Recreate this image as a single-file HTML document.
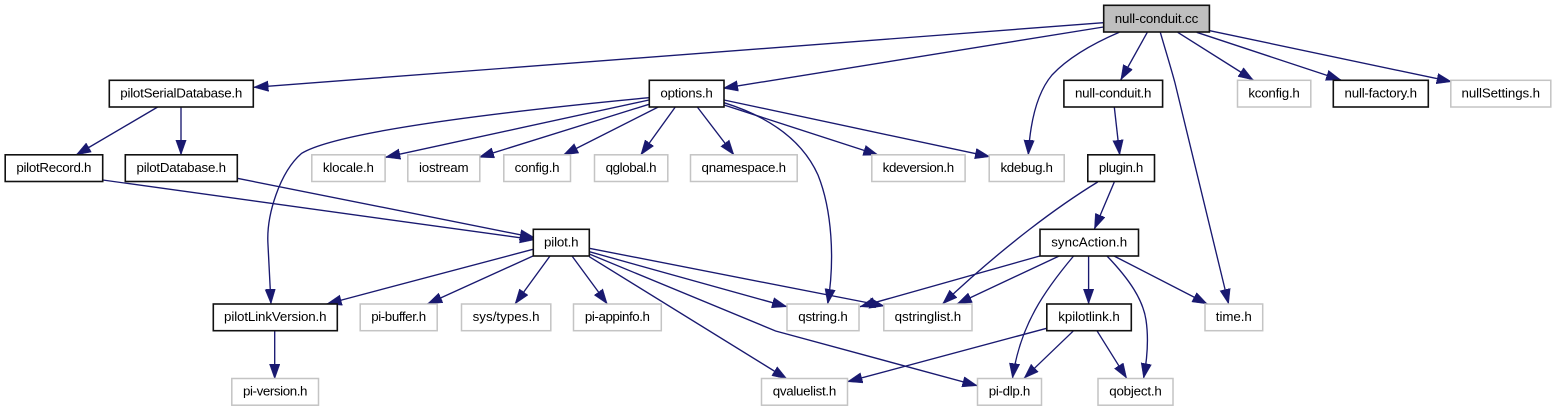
<!DOCTYPE html>
<html><head><meta charset="utf-8"><style>
html,body{margin:0;padding:0;background:#fff;width:1555px;height:411px;overflow:hidden}
svg{display:block}
.e{fill:none;stroke:#191970;stroke-width:1.35;marker-end:url(#a)}
.n{fill:#fff;stroke:#111;stroke-width:1.6}
.g{fill:#fff;stroke:#c4c4c4;stroke-width:1.5}
text{font-family:"Liberation Sans",sans-serif;font-size:13.33px;fill:#000;text-anchor:middle}
</style></head><body>
<svg width="1555" height="411" viewBox="0 0 1555 411" xmlns="http://www.w3.org/2000/svg">
<defs><marker id="a" markerUnits="userSpaceOnUse" markerWidth="17" markerHeight="13" refX="15" refY="5.5" orient="auto"><path d="M0,0.2 L15,5.5 L0,10.8 z" fill="#191970" stroke="#191970" stroke-width=".4"/></marker></defs>

<path class="e" d="M1103.5,22.7 L253.5,87.3"/>
<path class="e" d="M1103.5,27 L723,88.3"/>
<path class="e" d="M1119.3,32.3 C1092,44 1068,58 1052,75 C1036,94 1030,125 1028.3,155"/>
<path class="e" d="M1147.3,32.3 L1120.7,80"/>
<path class="e" d="M1160.3,32.3 C1166,52 1171,68 1175,83 L1228.6,304"/>
<path class="e" d="M1177.7,32.3 L1253.3,80"/>
<path class="e" d="M1196.7,32.3 L1341,80"/>
<path class="e" d="M1209.7,30.7 L1451.7,81.7"/>

<path class="e" d="M157.7,107 L76,155"/>
<path class="e" d="M181,107 L181,155"/>
<path class="e" d="M102.7,180 L534.8,239.8"/>
<path class="e" d="M237.3,178.3 L534.8,237.7"/>

<path class="e" d="M649,97.7 C520,110 340,130 301.7,153.3 C280,172 266,215 268,245 C269,265 270,285 271,304"/>
<path class="e" d="M649,100 L385.3,157.3"/>
<path class="e" d="M649,104.3 L479,157.3"/>
<path class="e" d="M658.3,107 L563.3,155"/>
<path class="e" d="M675.3,107 L640.7,155"/>
<path class="e" d="M697.3,107 L734,155"/>
<path class="e" d="M724,105 L878.3,155"/>
<path class="e" d="M724,100 L990,156.7"/>
<path class="e" d="M724,102.7 C760,114 800,135 818,175 C832,210 835,260 827.7,304"/>

<path class="e" d="M1114.3,107 L1119.7,155"/>
<path class="e" d="M1097.7,182 C1060,205 1005,245 942.5,304"/>
<path class="e" d="M1114.3,182 L1094.4,229"/>

<path class="e" d="M533,249.3 L326.7,304"/>
<path class="e" d="M533,256 L427.3,304"/>
<path class="e" d="M550,256 L515,304"/>
<path class="e" d="M572,256 L607.3,304"/>
<path class="e" d="M589.3,251.7 L787,306.7"/>
<path class="e" d="M589.3,248.3 L884.4,306"/>
<path class="e" d="M589.3,256.7 L787.1,379"/>
<path class="e" d="M589.3,254 L775.6,331 L977.4,385.7"/>
<path class="e" d="M274.7,331 L274.7,379"/>

<path class="e" d="M1039.8,256 L860,306.7"/>
<path class="e" d="M1059.2,256 L956.9,304"/>
<path class="e" d="M1073.6,256 C1045,290 1020,325 1012.5,378.3"/>
<path class="e" d="M1088.6,256 L1088.6,304"/>
<path class="e" d="M1107,256 C1130,280 1143,300 1146,320 C1149,340 1147,360 1143.6,378.3"/>
<path class="e" d="M1114,256 L1207.4,304"/>
<path class="e" d="M1046.6,328.3 L847.4,381.7"/>
<path class="e" d="M1073.6,330.7 L1024,378.3"/>
<path class="e" d="M1096.9,330.7 L1126.7,378.3"/>

<rect x="1103.7" y="5.3" width="105.7" height="26.7" fill="#bfbfbf" stroke="#111" stroke-width="1.6"/>
<text x="1156.5" y="23" textLength="83.5">null-conduit.cc</text>

<rect class="n" x="109.3" y="80.3" width="144" height="26.7"/><text x="181.3" y="97.5" textLength="122">pilotSerialDatabase.h</text>
<rect class="n" x="649.3" y="80.3" width="74.7" height="26.7"/><text x="686.6" y="97.5" textLength="52.5">options.h</text>
<rect class="n" x="1063.9" y="80.3" width="98.7" height="26.7"/><text x="1113.2" y="97.5" textLength="76.5">null-conduit.h</text>
<rect class="g" x="1237.5" y="80.3" width="73.3" height="26.7"/><text x="1274.1" y="97.5" textLength="51.5">kconfig.h</text>
<rect class="n" x="1333.3" y="80.3" width="95" height="26.7"/><text x="1380.8" y="97.5" textLength="72.5">null-factory.h</text>
<rect class="g" x="1450.8" y="80.3" width="100" height="26.7"/><text x="1500.8" y="97.5" textLength="78.5">nullSettings.h</text>

<rect class="n" x="5.2" y="154.8" width="97.5" height="26.7"/><text x="53.9" y="172" textLength="75">pilotRecord.h</text>
<rect class="n" x="125.3" y="154.8" width="112" height="26.7"/><text x="181.3" y="172" textLength="89.5">pilotDatabase.h</text>
<rect class="g" x="311.8" y="154.8" width="73.3" height="26.7"/><text x="348.4" y="172" textLength="51">klocale.h</text>
<rect class="g" x="407.8" y="154.8" width="72" height="26.7"/><text x="443.8" y="172" textLength="49.5">iostream</text>
<rect class="g" x="503.8" y="154.8" width="66.7" height="26.7"/><text x="537.1" y="172" textLength="45">config.h</text>
<rect class="g" x="594.5" y="154.8" width="73.3" height="26.7"/><text x="631.1" y="172" textLength="51">qglobal.h</text>
<rect class="g" x="690.5" y="154.8" width="106.7" height="26.7"/><text x="743.8" y="172" textLength="84.5">qnamespace.h</text>
<rect class="g" x="871.8" y="154.8" width="93.3" height="26.7"/><text x="918.4" y="172" textLength="71.5">kdeversion.h</text>
<rect class="g" x="989.2" y="154.8" width="75" height="26.7"/><text x="1026.7" y="172" textLength="52.5">kdebug.h</text>
<rect class="n" x="1087.8" y="154.8" width="66.7" height="26.7"/><text x="1121.1" y="172" textLength="44.5">plugin.h</text>

<rect class="n" x="533.3" y="229.3" width="56" height="26.7"/><text x="561.3" y="246.5" textLength="34.5">pilot.h</text>
<rect class="n" x="1040" y="229.3" width="98.5" height="26.7"/><text x="1089.2" y="246.5" textLength="76">syncAction.h</text>

<rect class="n" x="213.3" y="304" width="124" height="26.7"/><text x="275.3" y="321.2" textLength="102.5">pilotLinkVersion.h</text>
<rect class="g" x="360.2" y="304" width="77" height="26.7"/><text x="398.7" y="321.2" textLength="55">pi-buffer.h</text>
<rect class="g" x="461.5" y="304" width="89.3" height="26.7"/><text x="506.1" y="321.2" textLength="67">sys/types.h</text>
<rect class="g" x="573.5" y="304" width="87.8" height="26.7"/><text x="617.4" y="321.2" textLength="65">pi-appinfo.h</text>
<rect class="g" x="787" y="304" width="72" height="26.7"/><text x="823" y="321.2" textLength="49.5">qstring.h</text>
<rect class="g" x="883.8" y="304" width="88.2" height="26.7"/><text x="927.9" y="321.2" textLength="66.5">qstringlist.h</text>
<rect class="n" x="1046.8" y="304" width="84.5" height="26.7"/><text x="1089" y="321.2" textLength="61.5">kpilotlink.h</text>
<rect class="g" x="1205" y="304" width="57.7" height="26.7"/><text x="1233.8" y="321.2" textLength="36">time.h</text>

<rect class="g" x="231.8" y="378.5" width="86.7" height="26.7"/><text x="275.2" y="395.7" textLength="64.5">pi-version.h</text>
<rect class="g" x="761.5" y="378.5" width="86" height="26.7"/><text x="804.5" y="395.7" textLength="63.5">qvaluelist.h</text>
<rect class="g" x="977.5" y="378.5" width="64" height="26.7"/><text x="1009.5" y="395.7" textLength="41.5">pi-dlp.h</text>
<rect class="g" x="1098" y="378.5" width="75" height="26.7"/><text x="1135.5" y="395.7" textLength="52.5">qobject.h</text>
</svg>
</body></html>
